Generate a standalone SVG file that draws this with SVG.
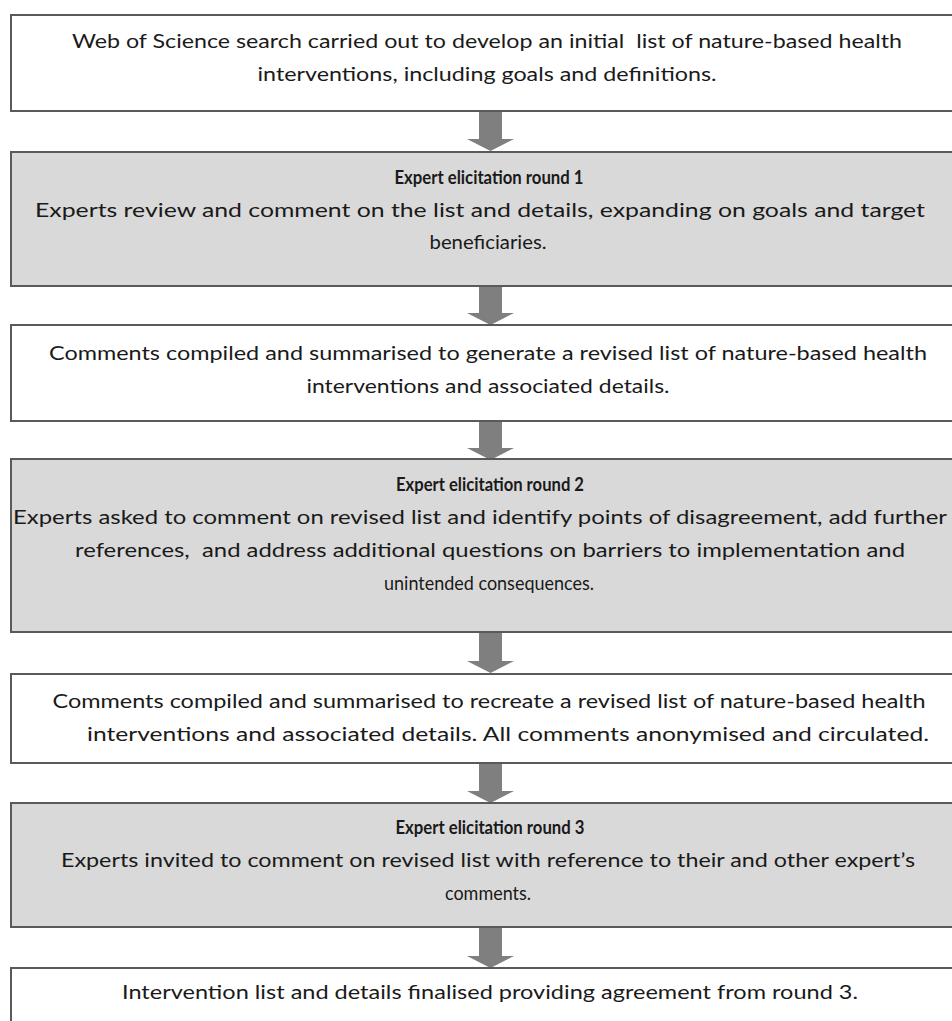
<svg xmlns="http://www.w3.org/2000/svg" xmlns:xlink="http://www.w3.org/1999/xlink" width="952" height="1021" viewBox="0 0 952 1021">
<style>
.box{stroke:#5a5a5a;stroke-width:2}
.w{fill:#ffffff}
.g{fill:#d9d9d9}
text{font-family:Lato,"Open Sans","Liberation Sans",sans-serif;font-size:18.5px;fill:#1a1a1a;text-anchor:middle;white-space:pre}
.b{font-weight:bold;font-size:19.5px}
.arrow{fill:#7f7f7f}
</style>
<defs>
<path id="arr" d="M479,0 H502 V28 H514 L490.5,40 L467,28 H479 Z"/>
</defs>
<rect width="952" height="1021" fill="#ffffff"/>
<g id="connectors" class="arrow">
<use xlink:href="#arr" y="111"/>
<use xlink:href="#arr" y="285"/>
<use xlink:href="#arr" y="420"/>
<use xlink:href="#arr" y="633"/>
<use xlink:href="#arr" y="763"/>
<use xlink:href="#arr" y="928"/>
</g>
<g id="n1">
<rect class="box w" x="11" y="15" width="960" height="96"/>
<text x="487" y="48" textLength="830" lengthAdjust="spacingAndGlyphs" xml:space="preserve">Web of Science search carried out to develop an initial  list of nature-based health</text>
<text x="487" y="81" textLength="459" lengthAdjust="spacingAndGlyphs">interventions, including goals and definitions.</text>
</g>
<g id="n2">
<rect class="box g" x="11" y="152" width="960" height="134"/>
<text class="b" x="489" y="184" textLength="189" lengthAdjust="spacingAndGlyphs">Expert elicitation round 1</text>
<text x="480" y="217" textLength="890" lengthAdjust="spacingAndGlyphs">Experts review and comment on the list and details, expanding on goals and target</text>
<text x="488" y="249" textLength="117" lengthAdjust="spacingAndGlyphs">beneficiaries.</text>
</g>
<g id="n3">
<rect class="box w" x="11" y="325" width="960" height="96"/>
<text x="488" y="360" textLength="878" lengthAdjust="spacingAndGlyphs">Comments compiled and summarised to generate a revised list of nature-based health</text>
<text x="488" y="393" textLength="363" lengthAdjust="spacingAndGlyphs">interventions and associated details.</text>
</g>
<g id="n4">
<rect class="box g" x="11" y="459" width="960" height="173"/>
<text class="b" x="490" y="491" textLength="188" lengthAdjust="spacingAndGlyphs">Expert elicitation round 2</text>
<text x="480" y="524" textLength="934" lengthAdjust="spacingAndGlyphs">Experts asked to comment on revised list and identify points of disagreement, add further</text>
<text x="490" y="557" textLength="830" lengthAdjust="spacingAndGlyphs" xml:space="preserve">references,  and address additional questions on barriers to implementation and</text>
<text x="489" y="590" textLength="210" lengthAdjust="spacingAndGlyphs">unintended consequences.</text>
</g>
<g id="n5">
<rect class="box w" x="11" y="674" width="960" height="89"/>
<text x="489" y="708" textLength="873" lengthAdjust="spacingAndGlyphs">Comments compiled and summarised to recreate a revised list of nature-based health</text>
<text x="508" y="741" textLength="842" lengthAdjust="spacingAndGlyphs">interventions and associated details. All comments anonymised and circulated.</text>
</g>
<g id="n6">
<rect class="box g" x="11" y="803" width="960" height="124"/>
<text class="b" x="490" y="834" textLength="189" lengthAdjust="spacingAndGlyphs">Expert elicitation round 3</text>
<text x="488" y="867" textLength="854" lengthAdjust="spacingAndGlyphs">Experts invited to comment on revised list with reference to their and other expert’s</text>
<text x="488" y="900" textLength="86" lengthAdjust="spacingAndGlyphs">comments.</text>
</g>
<g id="n7">
<rect class="box w" x="11" y="968" width="960" height="70"/>
<text x="490" y="999" textLength="736" lengthAdjust="spacingAndGlyphs">Intervention list and details finalised providing agreement from round 3.</text>
</g>
</svg>
